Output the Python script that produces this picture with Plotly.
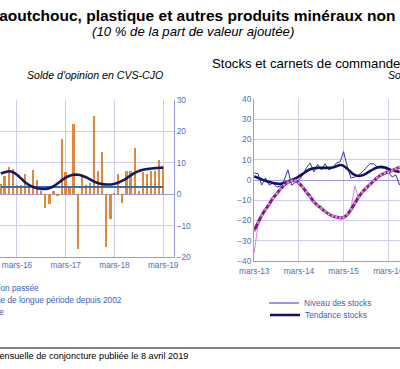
import plotly.graph_objects as go

W, H = 400, 369

# ---------------- data: left chart (monthly, solde d'opinion) ----------------
left_months = [
    "2015-11-01", "2015-12-01", "2016-01-01", "2016-02-01", "2016-03-01", "2016-04-01",
    "2016-05-01", "2016-06-01", "2016-07-01", "2016-08-01", "2016-09-01", "2016-10-01",
    "2016-11-01", "2016-12-01", "2017-01-01", "2017-02-01", "2017-03-01", "2017-04-01",
    "2017-05-01", "2017-06-01", "2017-07-01", "2017-08-01", "2017-09-01", "2017-10-01",
    "2017-11-01", "2017-12-01", "2018-01-01", "2018-02-01", "2018-03-01", "2018-04-01",
    "2018-05-01", "2018-06-01", "2018-07-01", "2018-08-01", "2018-09-01", "2018-10-01",
    "2018-11-01", "2018-12-01", "2019-01-01", "2019-02-01", "2019-03-01",
]
production_passee = [
    3.3, 5.8, 8.8, 8.0, 3.0, 3.0, 6.5, 3.0, 7.7, 4.5, 1.0, -4.5,
    -3.0, 1.0, -0.5, 17.5, 7.0, 2.0, 22.5, -17.5, 6.5, 3.0, 3.5, 25.0,
    7.5, 13.3, -16.8, -8.0, 0.5, 6.3, -2.8, 7.5, 7.5, 14.7, 1.0, 7.0,
    6.5, 7.5, 7.5, 11.0, 9.0,
]
tendance_prod = [
    6.6, 7.0, 7.3, 7.0, 6.2, 5.0, 3.8, 2.9, 2.3, 1.9, 1.7, 1.7,
    2.0, 2.6, 3.5, 4.5, 5.3, 5.9, 6.2, 6.2, 5.9, 5.4, 4.7, 4.0,
    3.5, 3.2, 3.1, 3.1, 3.3, 3.7, 4.3, 5.1, 6.0, 6.8, 7.4, 7.8,
    8.0, 8.2, 8.3, 8.4, 8.4,
]
moyenne_longue_periode = 2.3

left_tickvals = ["2016-03-01", "2017-03-01", "2018-03-01", "2019-03-01"]
left_ticktext = ["mars-16", "mars-17", "mars-18", "mars-19"]

# ---------------- data: right chart (stocks et carnets) ----------------
right_months = [
    "2013-03-01", "2013-04-01", "2013-05-01", "2013-06-01", "2013-07-01", "2013-08-01",
    "2013-09-01", "2013-10-01", "2013-11-01", "2013-12-01", "2014-01-01", "2014-02-01",
    "2014-03-01", "2014-04-01", "2014-05-01", "2014-06-01", "2014-07-01", "2014-08-01",
    "2014-09-01", "2014-10-01", "2014-11-01", "2014-12-01", "2015-01-01", "2015-02-01",
    "2015-03-01", "2015-04-01", "2015-05-01", "2015-06-01", "2015-07-01", "2015-08-01",
    "2015-09-01", "2015-10-01", "2015-11-01", "2015-12-01", "2016-01-01", "2016-02-01",
    "2016-03-01", "2016-04-01", "2016-05-01", "2016-06-01",
]
niveau_stocks = [
    3.5, 3.0, -2.5, 1.0, -2.5, -1.5, -3.5, -3.0, 0.0, 5.0, -2.5, -1.0,
    0.0, 2.5, 6.0, 8.4, 4.0, 7.7, 5.0, 8.0, 5.0, 6.0, 8.4, 9.0,
    14.0, 6.5, 1.0, 1.5, 2.5, 4.0, 6.0, 8.0, 8.0, 6.5, 6.0, 6.0,
    4.0, 1.5, 2.5, -2.5,
]
tendance_stocks = [
    1.7, 1.0, 0.3, -0.4, -1.0, -1.5, -1.8, -1.9, -1.5, -0.8, 0.0, 0.8,
    1.8, 3.0, 4.3, 5.3, 5.8, 6.0, 6.0, 6.0, 6.0, 6.2, 6.8, 7.4,
    7.0, 5.5, 3.8, 2.5, 2.0, 2.3, 3.2, 4.3, 5.4, 6.2, 6.5, 6.2,
    5.5, 4.8, 4.3, 4.0,
]
niveau_carnets = [
    -36.0, -22.0, -18.0, -14.0, -12.5, -8.5, -7.0, -4.0, -3.0, -1.0, 0.0, -0.5,
    -1.0, -4.0, -5.5, -8.5, -10.0, -13.0, -14.5, -15.0, -17.0, -18.0, -18.0, -19.5,
    -19.0, -17.5, -14.0, -3.0, -9.0, -6.5, -3.5, -2.5, 0.0, 1.0, 3.0, 3.0,
    4.5, 4.5, 5.5, 6.5,
]
tendance_carnets = [
    -25.0, -21.0, -17.5, -14.5, -12.0, -9.0, -6.8, -4.5, -2.5, -1.2, -0.5, -0.3,
    -1.5, -3.5, -6.0, -8.2, -10.8, -12.5, -14.0, -15.6, -16.8, -17.8, -18.3, -18.6,
    -18.5, -17.0, -14.5, -11.5, -8.5, -6.0, -4.0, -2.3, -0.5, 1.2, 2.5, 3.3,
    4.0, 4.6, 5.5, 6.3,
]
right_tickvals = ["2013-03-01", "2014-03-01", "2015-03-01", "2016-03-01"]
right_ticktext = ["mars-13", "mars-14", "mars-15", "mars-16"]

# ---------------- styles ----------------
FONT = "Arial, Liberation Sans, sans-serif"
GRID = "#cdcdf0"
AXLINE = "#9c9cdc"
TICKC = "#4a72b8"
LEGC = "#3d62b0"


def px_x(p):
    return p / W


def px_y(p):
    return 1 - p / H


fig = go.Figure()

# left chart
fig.add_trace(go.Bar(
    x=left_months, y=production_passee, name="Production passée",
    marker=dict(color="#e0893a", line=dict(width=0)),
    width=13 * 86400000, xaxis="x", yaxis="y", legend="legend3",
))
fig.add_trace(go.Scatter(
    x=left_months, y=[moyenne_longue_periode] * len(left_months),
    name="Moyenne de longue période depuis 2002", mode="lines",
    line=dict(color="#3471ad", width=2), xaxis="x", yaxis="y", legend="legend4",
))
fig.add_trace(go.Scatter(
    x=left_months, y=tendance_prod, name="Tendance", mode="lines",
    line=dict(color="#17175e", width=2.6, shape="spline"), xaxis="x", yaxis="y",
    legend="legend5",
))

# right chart
fig.add_trace(go.Scatter(
    x=right_months, y=niveau_stocks, name="Niveau des stocks", mode="lines",
    line=dict(color="#3030c8", width=1), xaxis="x2", yaxis="y2", legend="legend",
))
fig.add_trace(go.Scatter(
    x=right_months, y=tendance_stocks, name="Tendance stocks", mode="lines",
    line=dict(color="#121260", width=2.6, shape="spline"), xaxis="x2", yaxis="y2",
    legend="legend2",
))
fig.add_trace(go.Scatter(
    x=right_months, y=niveau_carnets, name="Niveau des carnets", mode="lines",
    line=dict(color="#e07ee0", width=1), xaxis="x2", yaxis="y2", showlegend=False,
))
fig.add_trace(go.Scatter(
    x=right_months, y=tendance_carnets, name="Tendance carnets", mode="lines+markers",
    line=dict(color="#7c1a80", width=3, shape="spline"),
    marker=dict(symbol="square", size=2.5, color="#d88ad8"),
    xaxis="x2", yaxis="y2", showlegend=False,
))

axis_font = dict(family=FONT, size=8.3, color=TICKC)

fig.update_layout(
    width=W, height=H,
    margin=dict(l=0, r=0, t=0, b=0, autoexpand=False),
    paper_bgcolor="white", plot_bgcolor="white",
    template="none",
    bargap=0,
    font=dict(family=FONT, size=10, color=TICKC),
    xaxis=dict(
        domain=[0, px_x(174)], anchor="y", type="date",
        range=["2015-10-26", "2019-05-21"],
        tickmode="array", tickvals=left_tickvals, ticktext=left_ticktext,
        showgrid=True, gridcolor=GRID, gridwidth=1,
        showline=True, linecolor=AXLINE, linewidth=1,
        ticks="", tickfont=axis_font, zeroline=False, automargin=False,
        ticklabeloverflow="allow",
    ),
    yaxis=dict(
        domain=[px_y(257), px_y(100)], anchor="x", side="right",
        range=[-20, 30], tickmode="linear", tick0=0, dtick=10,
        showgrid=True, gridcolor=GRID, gridwidth=1,
        zeroline=True, zerolinecolor=AXLINE, zerolinewidth=1,
        showline=True, linecolor=AXLINE, linewidth=1,
        ticks="", tickfont=axis_font, automargin=False,
    ),
    xaxis2=dict(
        domain=[px_x(254), 1], anchor="y2", type="date",
        range=["2013-02-27", "2016-06-04"],
        tickmode="array", tickvals=right_tickvals, ticktext=right_ticktext,
        showgrid=True, gridcolor=GRID, gridwidth=1,
        showline=True, linecolor=AXLINE, linewidth=1,
        ticks="", tickfont=axis_font, zeroline=False, automargin=False,
        ticklabeloverflow="allow", ticklabelstandoff=2,
    ),
    yaxis2=dict(
        domain=[px_y(261), px_y(99)], anchor="x2", side="left",
        range=[-40, 40], tickmode="linear", tick0=0, dtick=10,
        showgrid=True, gridcolor=GRID, gridwidth=1,
        zeroline=True, zerolinecolor=AXLINE, zerolinewidth=1,
        showline=True, linecolor=AXLINE, linewidth=1,
        ticks="", tickfont=axis_font, automargin=False,
    ),
)

legend_common = dict(
    xanchor="left", yanchor="middle", bgcolor="rgba(0,0,0,0)", borderwidth=0,
    font=dict(family=FONT, size=8.3, color=LEGC), orientation="v", itemwidth=30,
)
fig.update_layout(
    legend=dict(x=px_x(264), y=px_y(303), **legend_common),
    legend2=dict(x=px_x(265), y=px_y(315), **legend_common),
    legend3=dict(x=px_x(-70), y=px_y(288), **legend_common),
    legend4=dict(x=px_x(-69), y=px_y(300), **legend_common),
    legend5=dict(x=px_x(-72), y=px_y(312), **legend_common),
)

annotations = [
    dict(text="<b>Caoutchouc, plastique et autres produits minéraux non métalliques</b>",
         x=px_x(-14), y=px_y(15), xanchor="left", yanchor="middle",
         font=dict(family=FONT, size=15.5, color="black")),
    dict(text="<i>(10 % de la part de valeur ajoutée)</i>",
         x=px_x(193), y=px_y(31), xanchor="center", yanchor="middle",
         font=dict(family=FONT, size=13.2, color="black")),
    dict(text="<i>Solde d'opinion en CVS-CJO</i>",
         x=px_x(95), y=px_y(75), xanchor="center", yanchor="middle",
         font=dict(family=FONT, size=10.6, color="black")),
    dict(text="Stocks et carnets de commandes",
         x=px_x(210), y=px_y(63), xanchor="left", yanchor="middle",
         font=dict(family=FONT, size=13.2, color="black")),
    dict(text="<i>Solde d'opinion en CVS-CJO</i>",
         x=px_x(386), y=px_y(75), xanchor="left", yanchor="middle",
         font=dict(family=FONT, size=10.6, color="black")),
    dict(text="Enquête mensuelle de conjoncture publiée le 8 avril 2019",
         x=px_x(190), y=px_y(356), xanchor="right", yanchor="middle",
         font=dict(family=FONT, size=9.2, color="black")),
]
for a in annotations:
    a.update(xref="paper", yref="paper", showarrow=False)
fig.update_layout(annotations=annotations)

fig.update_layout(shapes=[
    dict(type="line", xref="paper", yref="paper", x0=0, x1=1,
         y0=px_y(348), y1=px_y(348), line=dict(color="black", width=1)),
])

fig.write_html(
    "out.html",
    config={"displayModeBar": False},
    post_script="document.body.style.margin='0';document.body.style.overflow='hidden';",
)
